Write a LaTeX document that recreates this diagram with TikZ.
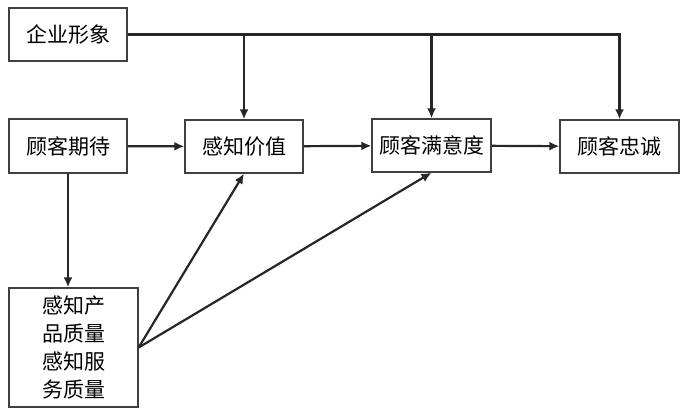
\documentclass[tikz,border=0pt]{standalone}
\usepackage{fontspec}
\setmainfont{Noto Sans CJK SC}
\usetikzlibrary{arrows.meta}
\tikzset{
  box/.style={draw=black!75, line width=1.3pt, inner sep=0pt, align=center,
    font=\fontsize{21}{28}\selectfont},
  link/.style={line width=2.2pt, black!85, -{Latex[length=10pt,width=9pt]}}
}
\begin{document}
\begin{tikzpicture}[x=1pt,y=-1pt]
      \useasboundingbox (0,0) rectangle (684,408);
      \node [box, minimum width=118pt, minimum height=53pt] (img) at (68,34.5) {企业形象};
      \node [box, minimum width=118pt, minimum height=54pt] (exp) at (68,146) {顾客期待};
      \node [box, minimum width=118pt, minimum height=53pt] (val) at (244,146.5) {感知价值};
      \node [box, minimum width=119pt, minimum height=53pt] (sat) at (431.5,145.5) {顾客满意度};
      \node [box, minimum width=119pt, minimum height=53pt] (loy) at (619.5,146.5) {顾客忠诚};
      \node [box, minimum width=129pt, minimum height=119pt] (qual) at (73.5,347.5)
       {感知产\\品质量\\感知服\\务质量};
      \draw [link] (img.east) -| (loy.north);
      \draw [link] (val.north |- img.east) -- (val.north);
      \draw [link] (sat.north |- img.east) -- (sat.north);
      \draw [link] (exp) -- (val);
      \draw [link] (val) -- (sat);
      \draw [link] (sat) -- (loy);
      \draw [link] (exp.south) -- (exp.south |- qual.north);
      \draw [link] (qual.east) -- (val.south);
      \draw [link] (qual.east) -- (sat.south);
\end{tikzpicture}
\end{document}
